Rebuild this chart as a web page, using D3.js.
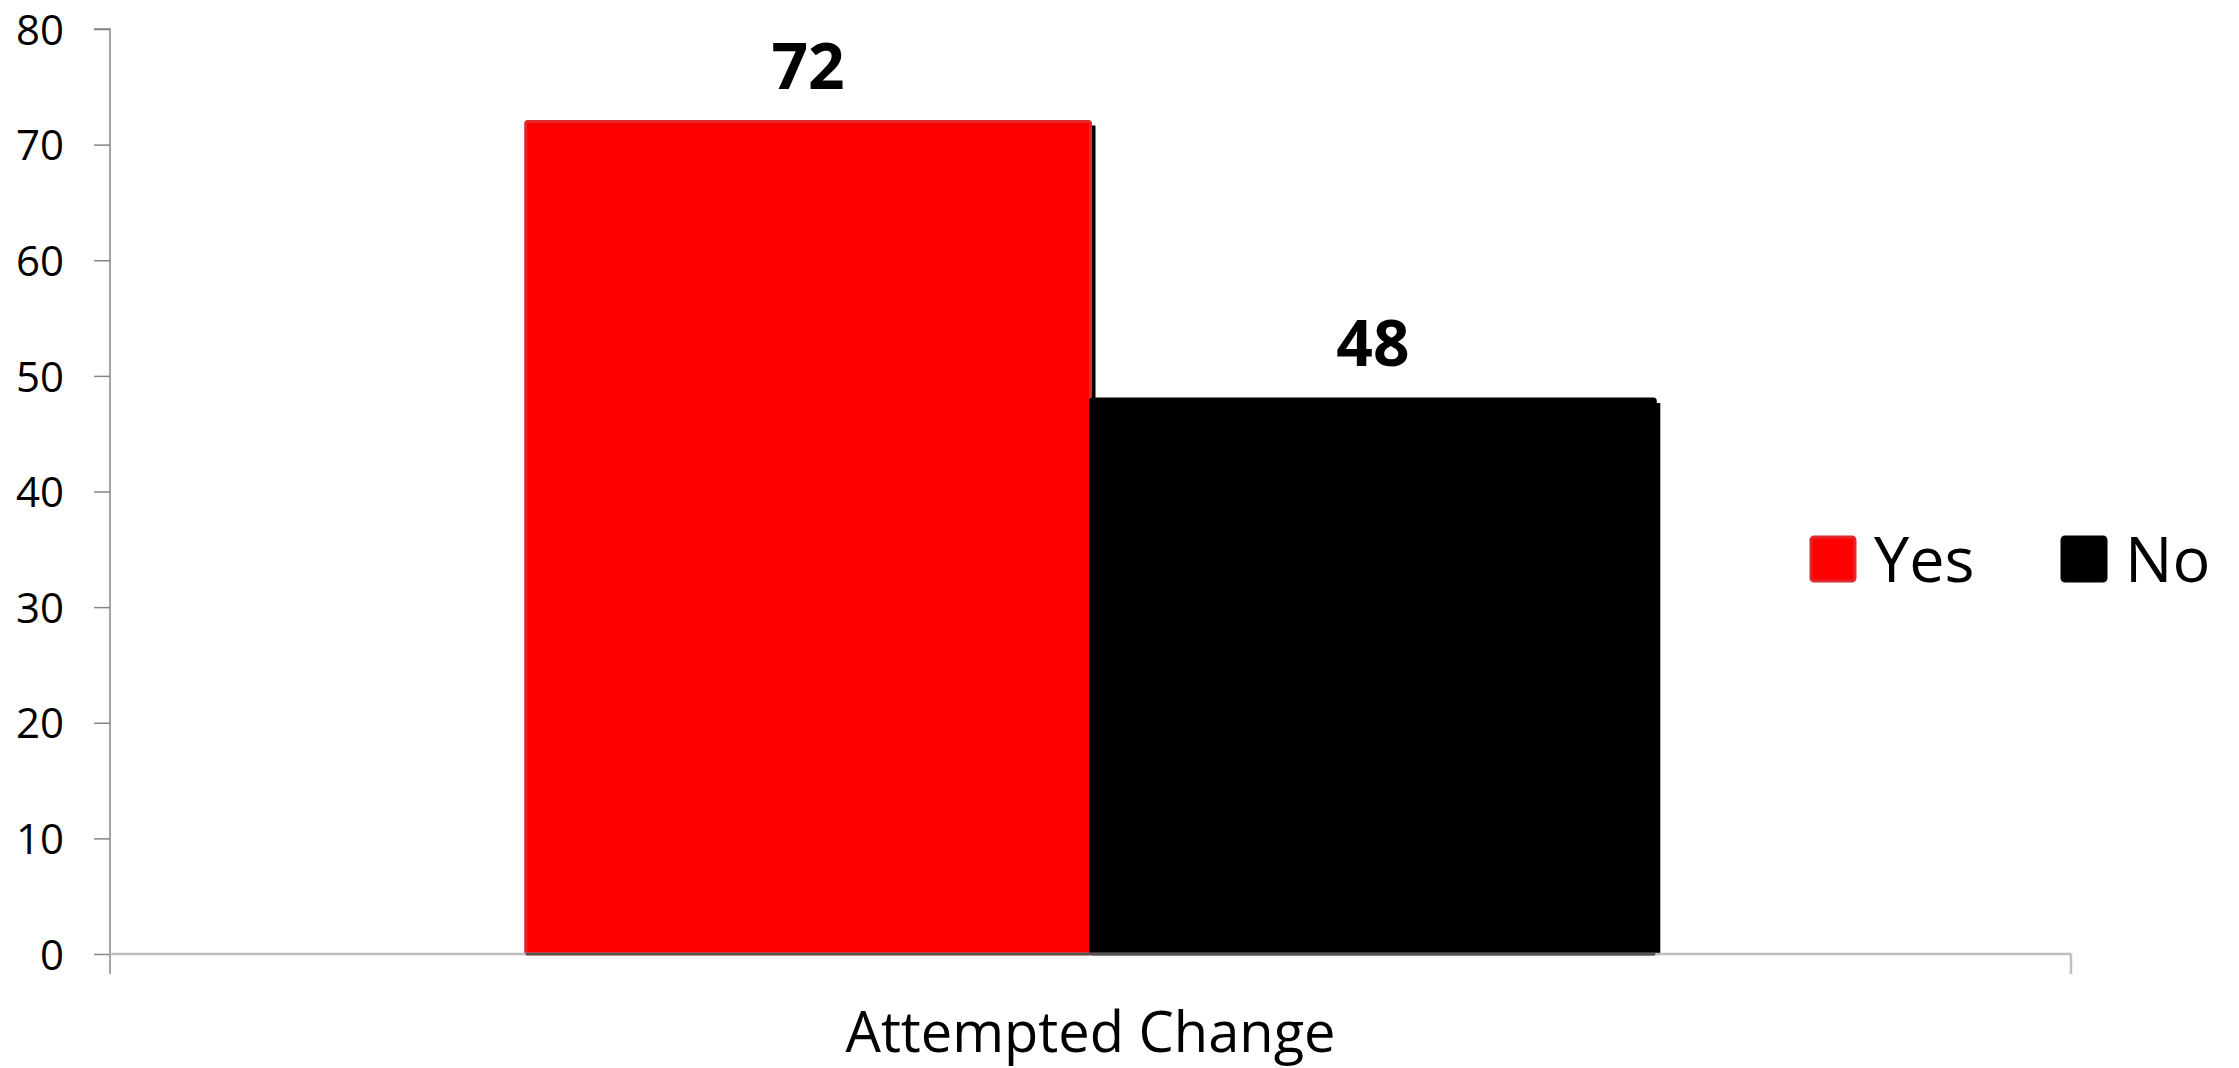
<!DOCTYPE html>
<html>
<head>
<meta charset="utf-8">
<script src="https://cdn.jsdelivr.net/npm/d3@7"></script>
<style>
  html, body { margin: 0; padding: 0; background: #fff; }
  svg { display: block; }
  text { font-family: "Open Sans", "Liberation Sans", sans-serif; fill: #000; }
</style>
</head>
<body>
<svg id="chart" width="2239" height="1068"></svg>
<script>
// Survey responses for a single category, split by answer
const categories = ["Attempted Change"];
const seriesNames = ["Yes", "No"];
const seriesValues = [72, 48];
const seriesColors = ["#ff0000", "#000000"];
const yTicks = [0, 10, 20, 30, 40, 50, 60, 70, 80];

const svg = d3.select("#chart");
const plot = { left: 110, right: 2071, top: 29, bottom: 954 };

const y = d3.scaleLinear().domain([0, 80]).range([plot.bottom, plot.top]);
const x0 = d3.scaleBand().domain(categories).range([plot.left, plot.right])
  .paddingInner(0).paddingOuter(0.368);
const x1 = d3.scaleBand().domain(seriesNames).range([0, x0.bandwidth()]).padding(0);

const rows = seriesNames.map((s, i) => ({ name: s, value: seriesValues[i], color: seriesColors[i], cat: categories[0] }));

// Y axis
const yAxis = d3.axisLeft(y).tickValues(yTicks).tickSize(16).tickPadding(30);
const gy = svg.append("g").attr("transform", `translate(${plot.left},0)`).call(yAxis);
gy.select(".domain").attr("stroke", "#868686").attr("stroke-width", 1.5)
  .attr("d", `M-16,${plot.top}H0V${plot.bottom + 20}`);
gy.selectAll(".tick line").attr("stroke", "#868686").attr("stroke-width", 1.5);
gy.selectAll(".tick text").style("font-size", "42px").attr("dy", "0.36em").style("fill", "#000");

// Bars with a thin drop shadow on the right
const bars = svg.append("g");
rows.forEach(d => {
  const bx = x0(d.cat) + x1(d.name);
  const bw = x1.bandwidth();
  bars.append("rect")
    .attr("x", bx + 5).attr("y", y(d.value) + 4)
    .attr("width", bw).attr("height", y(0) - y(d.value) - 4)
    .attr("fill", "#000");
});
rows.forEach(d => {
  const bx = x0(d.cat) + x1(d.name);
  const bw = x1.bandwidth();
  bars.append("rect")
    .attr("x", bx).attr("y", y(d.value))
    .attr("width", bw).attr("height", y(0) - y(d.value))
    .attr("rx", 2)
    .attr("fill", d.color)
    .attr("stroke", d.name === "Yes" ? "#e0282d" : "#000")
    .attr("stroke-width", 3);
});

// X axis (drawn above bars)
const gx = svg.append("g");
gx.append("path")
  .attr("d", `M${plot.left},${plot.bottom}H${plot.right}`)
  .attr("stroke", "#bfbfbf").attr("stroke-width", 2.5).attr("fill", "none");
gx.append("path")
  .attr("d", `M${x0(categories[0]) + x1("Yes")},${plot.bottom}H${x0(categories[0]) + x0.bandwidth()}`)
  .attr("stroke", "#555").attr("stroke-width", 2.5).attr("fill", "none");
gx.append("path")
  .attr("d", `M${plot.right},${plot.bottom}V${plot.bottom + 20}`)
  .attr("stroke", "#bfbfbf").attr("stroke-width", 2.5);
gx.selectAll("text.cat").data(categories).join("text")
  .attr("class", "cat")
  .attr("x", d => x0(d) + x0.bandwidth() / 2)
  .attr("y", 1052)
  .attr("text-anchor", "middle")
  .style("font-size", "56px")
  .text(d => d);

// Value labels
svg.append("g").selectAll("text").data(rows).join("text")
  .attr("x", d => x0(d.cat) + x1(d.name) + x1.bandwidth() / 2)
  .attr("y", d => y(d.value) - 33)
  .attr("text-anchor", "middle")
  .style("font-size", "64px").style("font-weight", "bold")
  .text(d => d.value);

// Legend
const legendX = [1811, 2062];
const lg = svg.append("g");
rows.forEach((d, i) => {
  lg.append("rect")
    .attr("x", legendX[i]).attr("y", 537).attr("width", 44).attr("height", 44).attr("rx", 3)
    .attr("fill", d.color)
    .attr("stroke", d.name === "Yes" ? "#e0282d" : "#000").attr("stroke-width", 3);
  lg.append("text")
    .attr("x", legendX[i] + 63).attr("y", 582)
    .style("font-size", "63px")
    .text(d.name);
});
</script>
</body>
</html>
